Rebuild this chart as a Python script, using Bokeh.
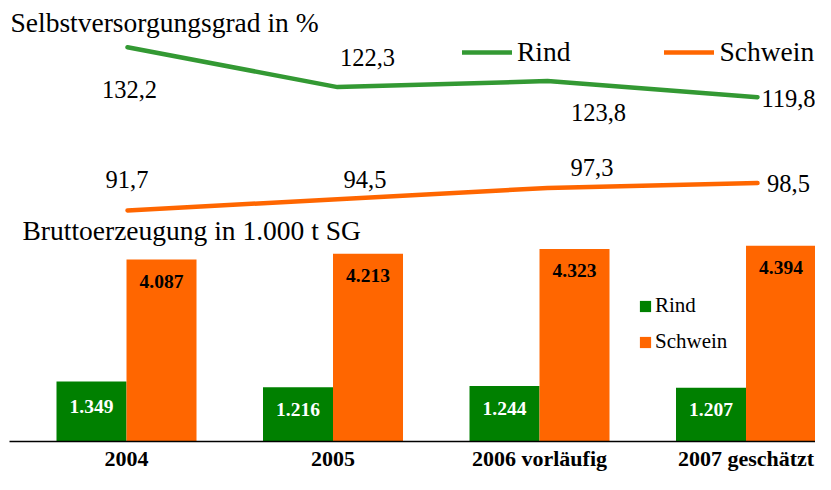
from bokeh.plotting import figure
from bokeh.models import Range1d, FixedTicker, Legend, LegendItem, Label, ColumnDataSource
from bokeh.transform import dodge
from bokeh.core.properties import value
from bokeh.embed import file_html
from bokeh.resources import INLINE

# ---------------- data ----------------
categories = ["2004", "2005", "2006 vorläufig", "2007 geschätzt"]
rind_svg = [132.2, 122.3, 123.8, 119.8]        # Selbstversorgungsgrad in %
schwein_svg = [91.7, 94.5, 97.3, 98.5]
rind_prod = [1349, 1216, 1244, 1207]           # Bruttoerzeugung in 1.000 t SG
schwein_prod = [4087, 4213, 4323, 4394]

# ---------------- styles ----------------
FONT = "Liberation Serif"
GREEN_LINE = "#339933"
ORANGE = "#FF6600"
GREEN_BAR = "#008000"

# label offsets (screen px) for the line value labels
rind_dx = [2, 30, 51, 31]
rind_dy = [42, -30, 31, 1]
schwein_dx = [-0.5, 27.5, 44.5, 31]
schwein_dy = [-31, -20, -20, 0]


def de_dec(v):
    return f"{v:.1f}".replace(".", ",")


def de_thousands(v):
    return f"{v:,}".replace(",", ".")


idx = list(range(len(categories)))

p = figure(width=815, height=474, output_backend="svg", toolbar_location=None,
           x_range=Range1d(-0.5666, 3.3365), y_range=Range1d(0, 9900),
           y_axis_location=None, x_axis_location="below",
           min_border_left=9, min_border_right=0, min_border_top=0,
           min_border_bottom=33)
p.extra_x_ranges = {"lx": Range1d(-0.5619, 3.2762)}
p.extra_y_ranges = {"ly": Range1d(34.41, 143.78)}
p.grid.visible = False
p.outline_line_color = None
p.background_fill_color = "white"
p.border_fill_color = "white"

# ---------------- bars ----------------
bar_src = ColumnDataSource(dict(
    x=idx, rind=rind_prod, schwein=schwein_prod,
    rind_mid=[v / 2 for v in rind_prod],
    rind_lbl=[de_thousands(v) for v in rind_prod],
    schwein_lbl=[de_thousands(v) for v in schwein_prod],
))
bw = 0.339
rb = p.vbar(x=dodge("x", -bw / 2), top="rind", width=bw, fill_color=GREEN_BAR,
            line_color=None, source=bar_src)
sb = p.vbar(x=dodge("x", bw / 2), top="schwein", width=bw, fill_color=ORANGE,
            line_color=None, source=bar_src)
p.text(x=dodge("x", -bw / 2), y="rind_mid", text="rind_lbl", source=bar_src,
       text_font=value(FONT), text_font_style="bold", text_font_size="19.5px",
       text_color="white", text_align="center", text_baseline="middle", y_offset=-5)
p.text(x=dodge("x", bw / 2), y="schwein", text="schwein_lbl", source=bar_src,
       text_font=value(FONT), text_font_style="bold", text_font_size="19.5px",
       text_color="black", text_align="center", text_baseline="middle", y_offset=22)

# ---------------- lines ----------------
line_src = ColumnDataSource(dict(
    x=idx, rind=rind_svg, schwein=schwein_svg,
    rind_lbl=[de_dec(v) for v in rind_svg],
    schwein_lbl=[de_dec(v) for v in schwein_svg],
    rdx=rind_dx, rdy=rind_dy, sdx=schwein_dx, sdy=schwein_dy,
))
rl = p.line(x="x", y="rind", source=line_src, x_range_name="lx", y_range_name="ly",
            line_color=GREEN_LINE, line_width=4.5, line_cap="round", line_join="round")
sl = p.line(x="x", y="schwein", source=line_src, x_range_name="lx", y_range_name="ly",
            line_color=ORANGE, line_width=4.5, line_cap="round", line_join="round")
p.text(x="x", y="rind", text="rind_lbl", source=line_src, x_range_name="lx",
       y_range_name="ly", x_offset="rdx", y_offset="rdy",
       text_font=value(FONT), text_font_size="24.5px", text_color="black",
       text_align="center", text_baseline="middle")
p.text(x="x", y="schwein", text="schwein_lbl", source=line_src, x_range_name="lx",
       y_range_name="ly", x_offset="sdx", y_offset="sdy",
       text_font=value(FONT), text_font_size="24.5px", text_color="black",
       text_align="center", text_baseline="middle")

# ---------------- titles ----------------
p.add_layout(Label(x=1, y=419, x_units="screen", y_units="screen",
                   text="Selbstversorgungsgrad in %", text_font=FONT,
                   text_font_size="27.5px", text_color="black", text_baseline="middle"))
p.add_layout(Label(x=13, y=211, x_units="screen", y_units="screen",
                   text="Bruttoerzeugung in 1.000 t SG", text_font=FONT,
                   text_font_size="27.5px", text_color="black", text_baseline="middle"))

# ---------------- legends ----------------
leg_lines = Legend(items=[LegendItem(label="Rind", renderers=[rl]),
                          LegendItem(label="Schwein", renderers=[sl])],
                   orientation="horizontal", location=(453, 373),
                   glyph_width=50, glyph_height=20, label_standoff=5, spacing=94,
                   padding=0, margin=0, border_line_color=None,
                   background_fill_alpha=0,
                   label_text_font=FONT, label_text_font_size="27.5px",
                   label_text_color="black")
p.add_layout(leg_lines, "center")

leg_bars = Legend(items=[LegendItem(label="Rind", renderers=[rb]),
                         LegendItem(label="Schwein", renderers=[sb])],
                  orientation="vertical", location=(629, 87),
                  glyph_width=14, glyph_height=14, label_standoff=3, spacing=11,
                  padding=0, margin=0, border_line_color=None,
                  background_fill_alpha=0,
                  label_text_font=FONT, label_text_font_size="21px",
                  label_text_color="black")
p.add_layout(leg_bars, "center")

# ---------------- category axis ----------------
ax = p.xaxis[0]
ax.ticker = FixedTicker(ticks=idx)
ax.major_label_overrides = {i: c for i, c in zip(idx, categories)}
ax.axis_line_color = "black"
ax.axis_line_width = 1.5
ax.major_tick_line_color = None
ax.minor_tick_line_color = None
ax.major_label_text_font = FONT
ax.major_label_text_font_style = "bold"
ax.major_label_text_font_size = "22px"
ax.major_label_text_color = "black"
ax.major_label_standoff = -2

open("out.html", "w").write(file_html(p, INLINE))
